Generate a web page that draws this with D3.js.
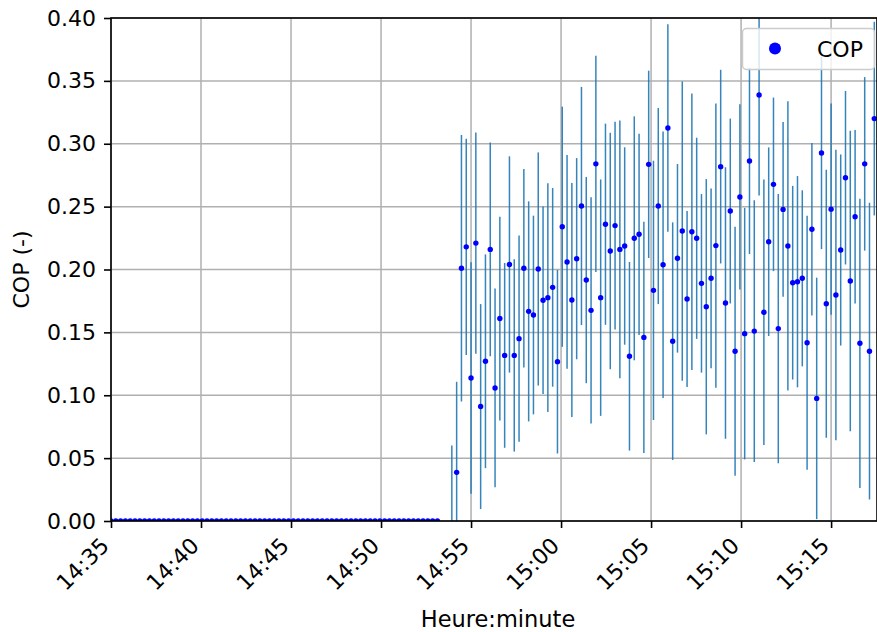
<!DOCTYPE html>
<html>
<head>
<meta charset="utf-8">
<script src="https://cdn.jsdelivr.net/npm/d3@7"></script>
<style>
  body { margin: 0; background: #fff; }
  svg { display: block; }
  text { font-family: "DejaVu Sans", sans-serif; }
</style>
</head>
<body>
<svg id="chart" width="877" height="632"></svg>
<script>
// Sampling: one reading every 16 s starting at 14:35:00
const startTime = "14:35:00";
const stepSeconds = 16;

// Idle period: COP logged as 0 (69 readings, 14:35:00 .. 14:53:08)
const idleCop = [
  0,0,0,0,0,0,0,0,0,0, 0,0,0,0,0,0,0,0,0,0,
  0,0,0,0,0,0,0,0,0,0, 0,0,0,0,0,0,0,0,0,0,
  0,0,0,0,0,0,0,0,0,0, 0,0,0,0,0,0,0,0,0,0,
  0,0,0,0,0,0,0,0,0
];
// Two readings missing before the heat pump starts
const missingCount = 2;

// Running period: COP and its uncertainty (from 14:53:56)
const runCop = [
  -0.015, 0.0387, 0.201, 0.218, 0.1137, 0.221, 0.091, 0.127, 0.216, 0.1058,
  0.161, 0.1317, 0.204, 0.1317, 0.145, 0.201, 0.1667, 0.1638, 0.2004, 0.1755,
  0.1776, 0.1858, 0.1267, 0.234, 0.206, 0.1757, 0.2086, 0.2505, 0.1916, 0.1675,
  0.284, 0.1776, 0.236, 0.2147, 0.2349, 0.216, 0.2187, 0.131, 0.2248, 0.228,
  0.146, 0.2836, 0.1834, 0.2505, 0.2038, 0.3125, 0.143, 0.2089, 0.2306, 0.1765,
  0.230, 0.2248, 0.189, 0.1704, 0.193, 0.219, 0.2818, 0.1734, 0.2465, 0.135,
  0.2577, 0.149, 0.2863, 0.151, 0.3388, 0.166, 0.2221, 0.2677, 0.153, 0.2478,
  0.2187, 0.1895, 0.1903, 0.193, 0.1418, 0.232, 0.0975, 0.2927, 0.1728, 0.248,
  0.1797, 0.2155, 0.273, 0.1908, 0.242, 0.1413, 0.284, 0.135, 0.32
];
const runErr = [
  0.075, 0.072, 0.106, 0.086, 0.092, 0.088, 0.0815, 0.085, 0.085, 0.079,
  0.081, 0.0735, 0.086, 0.0765, 0.082, 0.079, 0.0875, 0.079, 0.0927, 0.0746,
  0.091, 0.079, 0.073, 0.0955, 0.085, 0.093, 0.080, 0.0947, 0.082, 0.090,
  0.086, 0.094, 0.080, 0.094, 0.0826, 0.1025, 0.0785, 0.075, 0.097, 0.080,
  0.092, 0.0745, 0.103, 0.078, 0.106, 0.0825, 0.0945, 0.075, 0.119, 0.070,
  0.110, 0.080, 0.071, 0.1015, 0.0715, 0.113, 0.077, 0.108, 0.0735, 0.099,
  0.0737, 0.100, 0.074, 0.104, 0.080, 0.1055, 0.075, 0.069, 0.107, 0.0695,
  0.115, 0.077, 0.084, 0.070, 0.101, 0.0685, 0.096, 0.0765, 0.1065, 0.084,
  0.1155, 0.076, 0.069, 0.1195, 0.069, 0.115, 0.069, 0.118, 0.077
];

const xStart = "14:35:00";
const xEnd = "15:17:33";
const yTicks = [0, 0.05, 0.10, 0.15, 0.20, 0.25, 0.30, 0.35, 0.40];
const seriesName = "COP";
const xTitle = "Heure:minute";
const yTitle = "COP (-)";

// ---- build the time series ----
const parseT = d3.timeParse("%H:%M:%S");
const t0 = parseT(startTime);
const series = [];
idleCop.forEach(v => series.push({ v, e: 0 }));
for (let i = 0; i < missingCount; i++) series.push(null);
runCop.forEach((v, i) => series.push({ v, e: runErr[i] }));
const points = [];
series.forEach((d, i) => {
  if (d) points.push({ t: d3.timeSecond.offset(t0, i * stepSeconds), v: d.v, e: d.e });
});

// ---- layout ----
const W = 877, H = 632;
const m = { left: 111, right: 0, top: 18, bottom: 111 };
const pw = W - m.left - m.right, ph = H - m.top - m.bottom;

const svg = d3.select("#chart");
const x = d3.scaleTime().domain([parseT(xStart), parseT(xEnd)]).range([0, pw]);
const y = d3.scaleLinear().domain([0, 0.40]).range([ph, 0]);

const g = svg.append("g").attr("transform", `translate(${m.left},${m.top})`);

svg.append("defs").append("clipPath").attr("id", "plotClip")
  .append("rect").attr("width", pw).attr("height", ph);

const xTickVals = d3.timeMinute.every(5).range(parseT(xStart), d3.timeSecond.offset(parseT(xEnd), 1));

// grid
g.append("g").selectAll("line").data(xTickVals).join("line")
  .attr("x1", d => x(d)).attr("x2", d => x(d)).attr("y1", 0).attr("y2", ph)
  .attr("stroke", "#b0b0b0").attr("stroke-width", 1.5);
g.append("g").selectAll("line").data(yTicks).join("line")
  .attr("x1", 0).attr("x2", pw).attr("y1", d => y(d)).attr("y2", d => y(d))
  .attr("stroke", "#b0b0b0").attr("stroke-width", 1.5);

// data: error bars under markers
const plot = g.append("g").attr("clip-path", "url(#plotClip)");
plot.append("g").selectAll("line").data(points.filter(p => p.e > 0)).join("line")
  .attr("x1", d => x(d.t)).attr("x2", d => x(d.t))
  .attr("y1", d => y(d.v - d.e)).attr("y2", d => y(d.v + d.e))
  .attr("stroke", "#1f77b4").attr("stroke-width", 1.5).attr("stroke-opacity", 0.9);
plot.append("g").selectAll("circle").data(points).join("circle")
  .attr("cx", d => x(d.t)).attr("cy", d => y(d.v)).attr("r", 2.7)
  .attr("fill", "#0000ff");

// axes
const fs = 22;
const xAxis = g.append("g").attr("transform", `translate(0,${ph})`)
  .call(d3.axisBottom(x).tickValues(xTickVals).tickFormat(d3.timeFormat("%H:%M")).tickSize(7).tickPadding(7));
xAxis.selectAll("text")
  .attr("font-size", fs).attr("fill", "#000")
  .attr("text-anchor", "end").attr("dy", null).attr("y", null)
  .attr("transform", "translate(-1,26) rotate(-45)");
const yAxis = g.append("g")
  .call(d3.axisLeft(y).tickValues(yTicks).tickFormat(d3.format(".2f")).tickSize(7).tickPadding(8));
yAxis.selectAll("text").attr("font-size", fs).attr("fill", "#000");
[xAxis, yAxis].forEach(a => {
  a.select(".domain").remove();
  a.selectAll(".tick line").attr("stroke", "#000").attr("stroke-width", 1.6);
});

// frame
g.append("rect").attr("width", pw).attr("height", ph)
  .attr("fill", "none").attr("stroke", "#000").attr("stroke-width", 1.6);

// axis titles
svg.append("text").attr("x", m.left + pw / 2 + 4).attr("y", 627)
  .attr("text-anchor", "middle").attr("font-size", 22.5).text(xTitle);
svg.append("text").attr("transform", `translate(29,${m.top + ph / 2}) rotate(-90)`)
  .attr("text-anchor", "middle").attr("font-size", fs).text(yTitle);

// legend
const lg = svg.append("g");
lg.append("rect").attr("x", 742.5).attr("y", 28.5).attr("width", 132).attr("height", 41)
  .attr("rx", 4).attr("fill", "#fff").attr("fill-opacity", 0.8)
  .attr("stroke", "#cccccc").attr("stroke-width", 1.5);
lg.append("circle").attr("cx", 775).attr("cy", 48.5).attr("r", 6).attr("fill", "#0000ff");
lg.append("text").attr("x", 817).attr("y", 56.5).attr("font-size", 22).text(seriesName);
</script>
</body>
</html>
